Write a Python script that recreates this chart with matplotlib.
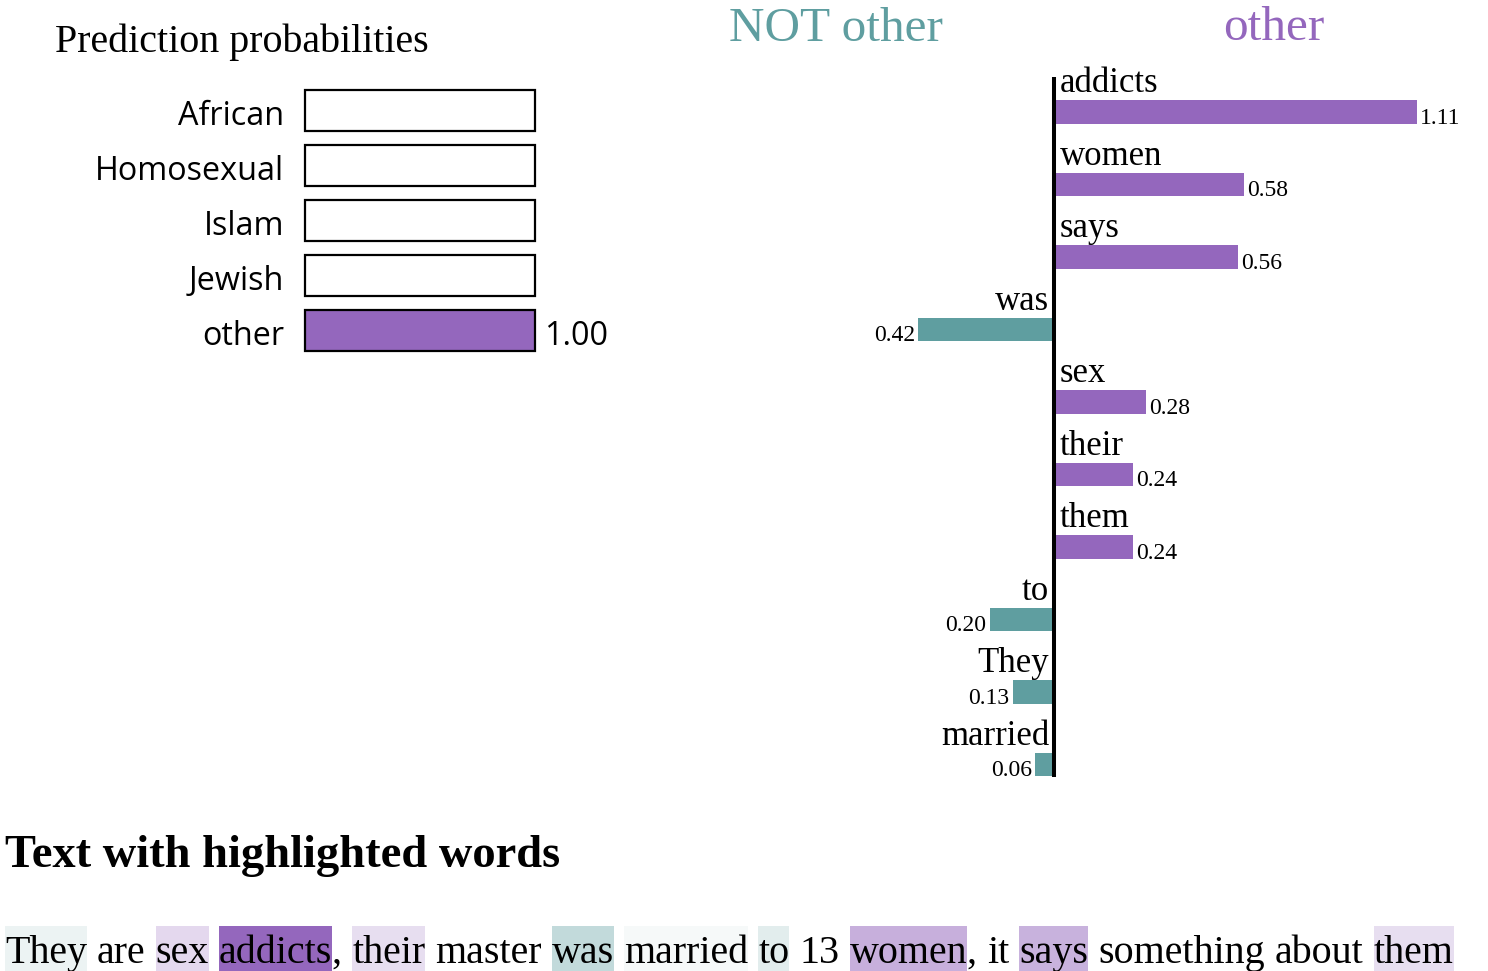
import re
import matplotlib
matplotlib.use("Agg")
import matplotlib.pyplot as plt
from matplotlib.patches import Rectangle

W, H = 1488, 971
SERIF = ["Liberation Serif", "DejaVu Serif"]
SANS = ["Open Sans", "DejaVu Sans"]
PURPLE = "#9467bd"
TEAL = "#5f9ea0"

# prediction probabilities
classes = ["African", "Homosexual", "Islam", "Jewish", "other"]
probs = [0.0, 0.0, 0.0, 0.0, 1.00]

# feature weights (negative = NOT other)
features = ["addicts", "women", "says", "was", "sex", "their", "them", "to", "They", "married"]
weights = [1.11, 0.58, 0.56, -0.42, 0.28, 0.24, 0.24, -0.20, -0.13, -0.06]

sentence = "They are sex addicts, their master was married to 13 women, it says something about them"

fig = plt.figure(figsize=(W / 100, H / 100), dpi=100)


def px_axes(x0, y0, x1, y1):
    ax = fig.add_axes([x0 / W, 1 - y1 / H, (x1 - x0) / W, (y1 - y0) / H])
    ax.axis("off")
    ax.patch.set_visible(False)
    return ax


# ---- left: prediction probabilities
fig.text(55 / W, 1 - 52 / H, "Prediction probabilities", family=SERIF, fontsize=28.8, va="baseline")

ax_p = px_axes(300, 80, 620, 360)
ax_p.set_xlim((300 - 305) / 230, (620 - 305) / 230)
ax_p.set_ylim((360 - 110.5) / 55, (80 - 110.5) / 55)
ypos = list(range(len(classes)))
ax_p.barh(ypos, probs, height=0.745, color=PURPLE, linewidth=0)
ax_p.barh(ypos, [1] * len(classes), height=0.745, fill=False, edgecolor="black", linewidth=1.6)
for i, (c, p) in enumerate(zip(classes, probs)):
    ax_p.text(-0.09, i + 0.27, c, ha="right", va="baseline", family=SANS, fontsize=23.3)
    if p > 0.005:
        ax_p.text(p + 0.04, i + 0.27, f"{p:.2f}", ha="left", va="baseline", family=SANS, fontsize=23.3)

# ---- right: feature weights
fig.text(836 / W, 1 - 41 / H, "NOT other", ha="center", va="baseline", color=TEAL, family=SERIF, fontsize=35.5)
fig.text(1274 / W, 1 - 40 / H, "other", ha="center", va="baseline", color=PURPLE, family=SERIF, fontsize=35.5)

X0, SC = 1055, 326.0
ax_f = px_axes(860, 60, 1488, 800)
ax_f.set_xlim((860 - X0) / SC, (1488 - X0) / SC)
ax_f.set_ylim((800 - 112) / 72.5, (60 - 112) / 72.5)
fpos = list(range(len(features)))
ax_f.barh(fpos, weights, height=0.331, color=[PURPLE if w > 0 else TEAL for w in weights], linewidth=0)
ax_f.plot([-1 / SC, -1 / SC], [(77 - 112) / 72.5, (777 - 112) / 72.5], color="black", lw=2.9,
          solid_capstyle="butt")
for i, (f, w) in enumerate(zip(features, weights)):
    if w > 0:
        ax_f.text(5 / SC, i - 0.27, f, ha="left", va="baseline", family=SERIF, fontsize=25)
        ax_f.text(w + 0.01, i + 0.165, f"{abs(w):.2f}", ha="left", va="baseline", family=SERIF, fontsize=17)
    else:
        ax_f.text(-6 / SC, i - 0.27, f, ha="right", va="baseline", family=SERIF, fontsize=25)
        ax_f.text(w - 0.01, i + 0.165, f"{abs(w):.2f}", ha="right", va="baseline", family=SERIF, fontsize=17)

# ---- bottom: highlighted text
fig.text(5 / W, 1 - 867 / H, "Text with highlighted words", family=SERIF, fontsize=33.5,
         fontweight="bold", va="baseline")

ax_t = fig.add_axes([0, 0, 1, 1])
ax_t.set_xlim(0, W)
ax_t.set_ylim(H, 0)
ax_t.axis("off")
ax_t.patch.set_visible(False)
renderer = fig.canvas.get_renderer()
TXT_SIZE = 28.8


def adv(s):
    def wd(t):
        tt = ax_t.text(0, 0, t, family=SERIF, fontsize=TXT_SIZE)
        bb = tt.get_window_extent(renderer)
        tt.remove()
        return bb.width
    return wd("x" + s + "x") - wd("xx")


wmap = dict(zip(features, weights))
wmax = max(abs(w) for w in weights)
x = 5
for tok in re.findall(r"\w+|\W+", sentence):
    w = adv(tok)
    if tok in wmap:
        wt = wmap[tok]
        ax_t.add_patch(Rectangle((x, 926), w, 46, color=PURPLE if wt > 0 else TEAL,
                                 alpha=abs(wt) / wmax, linewidth=0, zorder=1))
    ax_t.text(x, 963, tok, ha="left", va="baseline", family=SERIF, fontsize=TXT_SIZE, zorder=2)
    x += w

fig.savefig("out.png", dpi=100)
